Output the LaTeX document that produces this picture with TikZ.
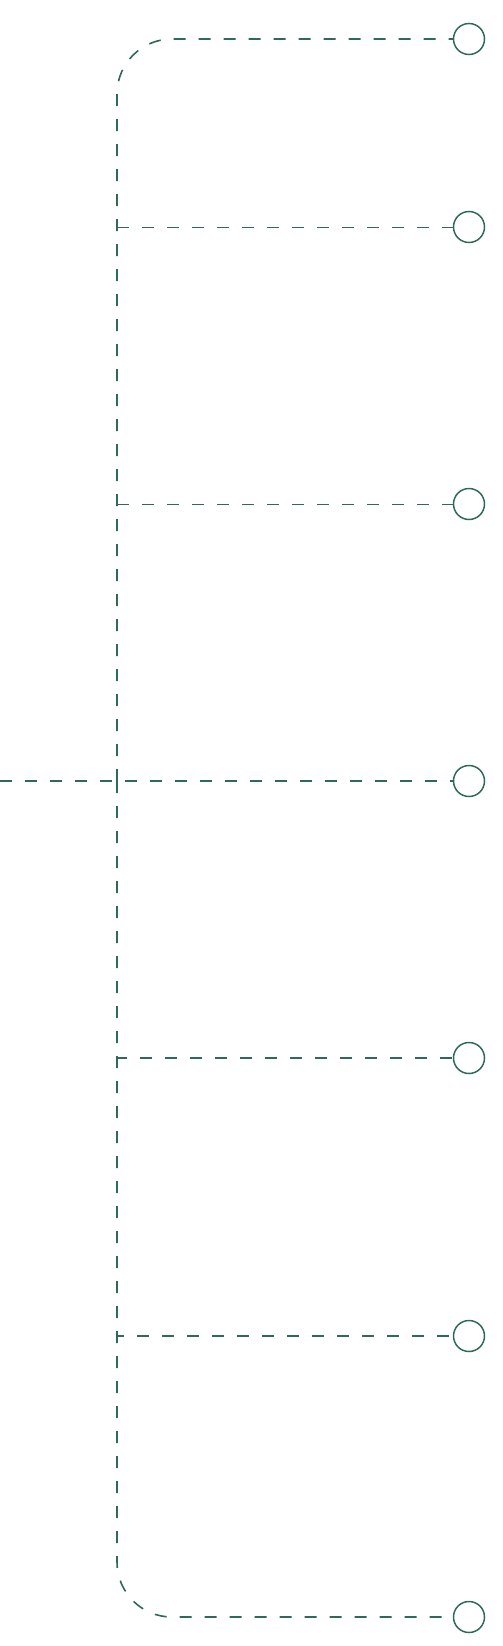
\documentclass[tikz,border=0pt]{standalone}
\usepackage{tikz}
\usetikzlibrary{positioning,calc}

\definecolor{treegreen}{RGB}{46,107,86}

\begin{document}
\begin{tikzpicture}[
    x=1pt, y=1pt,
    leaf/.style={circle, draw=treegreen, line width=1.5pt, minimum size=31pt, inner sep=0pt},
    link/.style={draw=treegreen, line width=1.6pt, dash pattern=on 12pt off 13pt},
    thinlink/.style={link, line width=0.9pt}
]
    \useasboundingbox (0,0) rectangle (503,-1646);

    % Leaves down the right side
    \node[leaf] (leafa) at (469,-39)   {};
    \node[leaf] (leafb) at (469,-227)  {};
    \node[leaf] (leafc) at (469,-504)  {};
    \node[leaf] (leafd) at (469,-781)  {};
    \node[leaf] (leafe) at (469,-1058) {};
    \node[leaf] (leaff) at (469,-1336) {};
    \node[leaf] (leafg) at (469,-1617) {};

    % Entry point and the spine
    \coordinate (entry) at (0,-781);
    \coordinate (spine) at (117,-781);

    \draw[link] (entry) -- (leafd);

    % Branches to the leaves
    \draw[link, rounded corners=55pt] (spine) |- (leafa);
    \draw[thinlink] (spine |- leafb) -- (leafb);
    \draw[thinlink] (spine |- leafc) -- (leafc);
    \draw[link] (spine) |- (leafe);
    \draw[link] (spine) |- (leaff);
    \draw[link, rounded corners=55pt] (spine) |- (leafg);

\end{tikzpicture}
\end{document}
